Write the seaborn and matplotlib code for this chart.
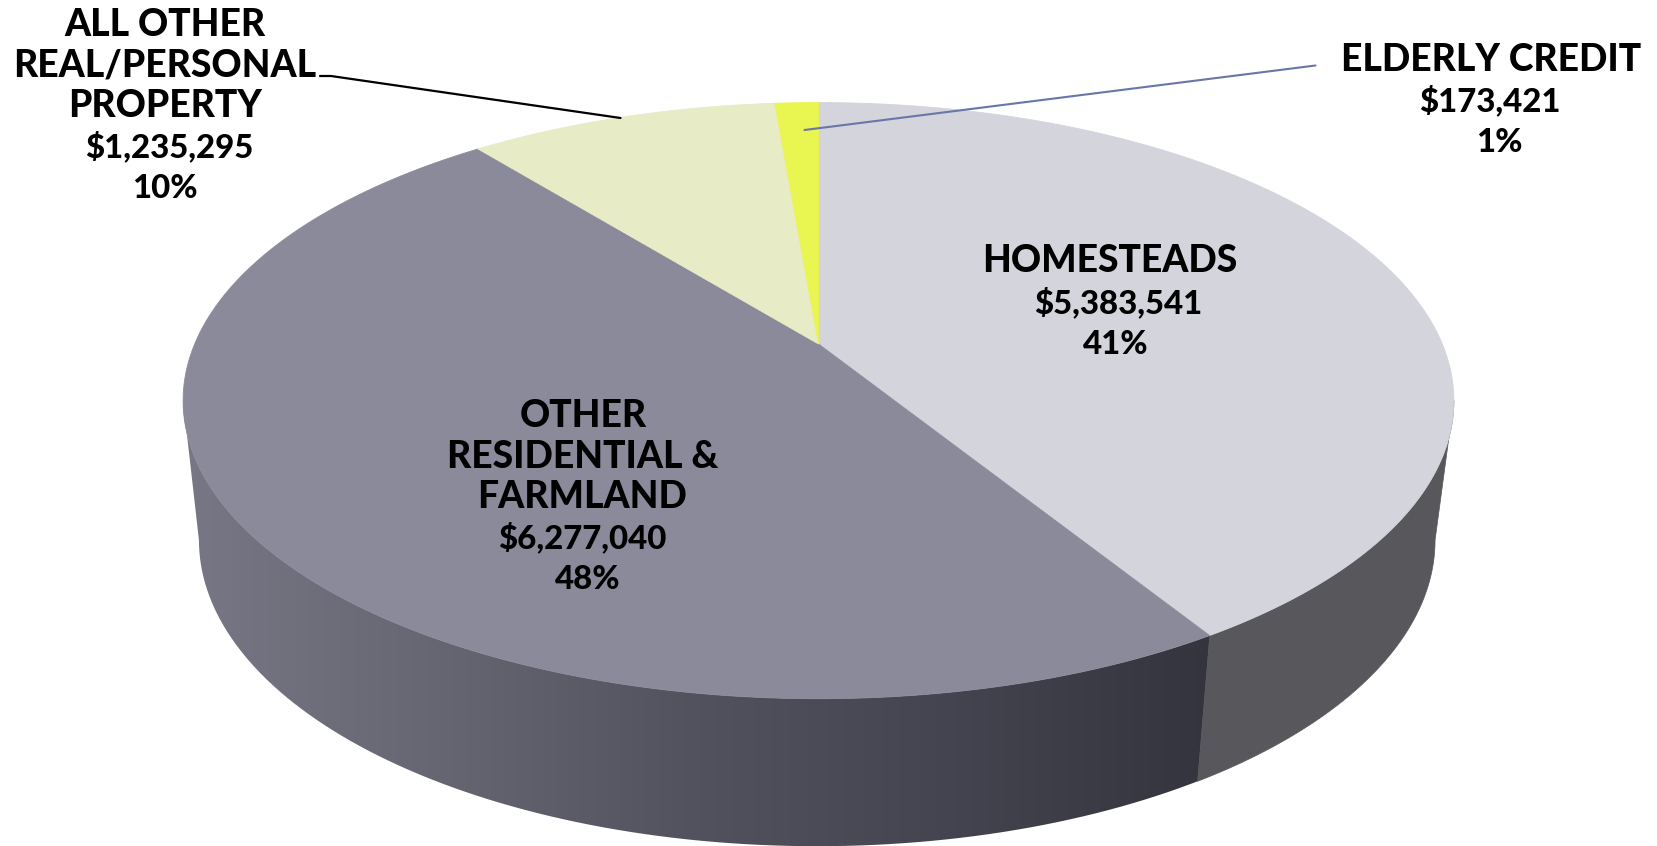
import numpy as np
import seaborn as sns
import matplotlib.pyplot as plt
from matplotlib.patches import PathPatch
from matplotlib.path import Path

names = [["HOMESTEADS"],
         ["OTHER", "RESIDENTIAL &", "FARMLAND"],
         ["ALL OTHER", "REAL/PERSONAL", "PROPERTY"],
         ["ELDERLY CREDIT"]]
values = [5383541, 6277040, 1235295, 173421]
percents = [41, 48, 10, 1]
top_colors = sns.color_palette(["#d4d4dd", "#8a8a9b", "#e7ebc6", "#e9f550"])
left_wall = ["#777785", "#666673", "#52525e", "#43444f", "#33343d"]
right_wall = "#58585c"
label_font = ["Lato", "DejaVu Sans"]

sns.set_theme(style="white")
plt.rcParams["font.family"] = label_font

# perspective of the disc, top face and bottom face (pixels)
K = 0.19
TOP = dict(cx=818.5, y0=344, a=287.3, b=623.8)
BOT = dict(cx=817, y0=482, a=295, b=606.8)


def project(theta, face):
    # theta runs clockwise from 12 o'clock
    u, v = np.sin(theta), np.cos(theta)
    d = 1 + K * v
    return face["cx"] + face["b"] * u / d, face["y0"] - face["a"] * v / d


def wall_patch(start, end):
    th = np.linspace(start, end, 200)
    x1, y1 = project(th, TOP)
    x2, y2 = project(th[::-1], BOT)
    return np.r_[x1, x2], np.r_[y1, y2]


fig = plt.figure(figsize=(16.58, 8.46), dpi=100)
ax = fig.add_axes([0, 0, 1, 1])

edges = np.r_[0, np.cumsum(values)] / sum(values) * 2 * np.pi
silhouette = np.arccos(-K)

# side walls
x, y = wall_patch(silhouette, edges[1])
ax.fill(x, y, color=right_wall, lw=0.5)

x, y = wall_patch(edges[1], 2 * np.pi - silhouette)
cmap = sns.blend_palette(left_wall, n_colors=256, as_cmap=True)
grad = np.linspace(0, 1, 512).reshape(1, -1)
im = ax.imshow(grad, cmap=cmap, extent=[180, 1215, 846, 400], aspect="auto", zorder=1)
clip = PathPatch(Path(np.c_[x, y]), transform=ax.transData, fc="none", ec="none")
ax.add_patch(clip)
im.set_clip_path(clip)

# top face
for i, color in enumerate(top_colors):
    th = np.linspace(edges[i], edges[i + 1], 300)
    x, y = project(th, TOP)
    ax.fill(np.r_[TOP["cx"], x], np.r_[TOP["y0"], y], color=color, lw=0.6, zorder=2)

# leader lines
ax.plot([320, 331, 620.5], [76, 76, 118], color="black", lw=1.6, zorder=3)
ax.plot([804.5, 1315.5], [130, 65.5], color="#6a76a8", lw=1.5, zorder=3)

# labels: x of each line in a block, y of the first baseline
blocks = [([1110, 1118, 1115.5], 272.5),
          ([583, 582.5, 582.5, 582, 587.5], 427),
          ([165, 165, 165, 169, 165], 36),
          ([1491.5, 1490, 1499], 71)]
for i, (xs, ty) in enumerate(blocks):
    lines = names[i] + [f"${values[i]:,}", f"{percents[i]}%"]
    for j, line in enumerate(lines):
        size = 26.8 if j < len(names[i]) else 23.8
        ax.text(xs[j], ty + j * 40.5, line, ha="center", va="baseline", fontsize=size,
                fontweight="black", color="black", zorder=4)

ax.set_xlim(0, 1658)
ax.set_ylim(846, 0)
ax.axis("off")
fig.savefig("out.png", dpi=100, facecolor="white")
